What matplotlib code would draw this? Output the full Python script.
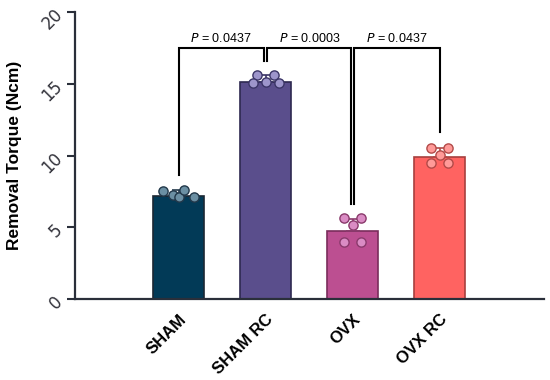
import matplotlib
matplotlib.use("Agg")
import matplotlib.pyplot as plt
import numpy as np

categories = ["SHAM", "SHAM RC", "OVX", "OVX RC"]
bar_means = [7.2, 15.12, 4.75, 9.93]
bar_sd = [0.38, 0.48, 0.85, 0.57]
points = [
    [7.55, 7.25, 7.08, 7.62, 7.08],
    [15.61, 15.61, 15.10, 15.03, 15.03],
    [5.62, 5.62, 5.16, 3.95, 3.95],
    [10.50, 10.50, 10.03, 9.50, 9.50],
]
point_offsets = [
    [-0.18, -0.06, 0.0, 0.06, 0.18],
    [-0.10, 0.10, 0.0, -0.148, 0.158],
    [-0.095, 0.10, 0.0, -0.10, 0.095],
    [-0.10, 0.10, 0.0, -0.10, 0.10],
]
comparisons = [(0, 1), (1, 2), (2, 3)]
p_labels = ["0.0437", "0.0003", "0.0437"]
bracket_top = [17.47, 17.47, 17.47]
leg_bottoms = [(8.64, 16.6), (16.6, 6.62), (6.62, 11.66)]
leg_shift = [(0.0, -0.02), (0.02, -0.015), (0.015, 0.0)]
yticks = [0, 5, 10, 15, 20]

fill_colors = ["#023a57", "#5a4e8c", "#bc4f91", "#ff6361"]
edge_colors = ["#1b2733", "#2e2950", "#7a2d5c", "#a8403e"]
point_colors = ["#6b8fa3", "#9d95cb", "#da8cc4", "#ff9a98"]
point_edges = ["#22384a", "#3b3567", "#8a3a6c", "#b24a48"]

fig = plt.figure(figsize=(5.5, 3.8), dpi=100)
ax = fig.add_axes([75/550, (380-299)/380, (544-75)/550, (299-12)/380])

x = np.arange(len(categories))
ax.bar(x, bar_means, width=0.586, color=fill_colors, edgecolor=edge_colors,
       linewidth=1.2, zorder=2)
for i in range(len(categories)):
    ax.errorbar(x[i], bar_means[i], yerr=[[0], [bar_sd[i]]], fmt="none",
                ecolor=point_edges[i], elinewidth=1.2, capsize=5, capthick=1.2,
                zorder=3)
    ax.scatter(x[i] + np.array(point_offsets[i]), points[i], s=44,
               facecolor=point_colors[i], edgecolor=point_edges[i],
               linewidth=1.0, zorder=4)

for k, (a, b) in enumerate(comparisons):
    xa = a + leg_shift[k][0]
    xb = b + leg_shift[k][1]
    ya, yb = leg_bottoms[k]
    yt = bracket_top[k]
    ax.plot([xa, xa, xb, xb], [ya, yt, yt, yb], color="black", lw=1.5,
            zorder=5, solid_joinstyle="miter", clip_on=False)
    ax.text((xa + xb) / 2, yt + 0.2, "$\\it{P}$ = " + p_labels[k],
            ha="center", va="bottom", fontsize=9,
            family="Liberation Sans", color="black")

ax.set_xlim(-1.19, 4.2)
ax.set_ylim(0, 20)
ax.set_yticks(yticks)
ax.set_yticklabels([str(v) for v in yticks], rotation=45, fontsize=12,
                   family="DejaVu Sans", color="#33333b",
                   ha="right", va="center", rotation_mode="anchor")
ax.set_xticks(x)
ax.set_xticklabels(categories, rotation=45, ha="right", va="top",
                   rotation_mode="anchor", fontsize=12, fontweight="bold",
                   family="Liberation Sans")
ax.tick_params(axis="x", length=0, pad=9)
ax.tick_params(axis="y", length=6, width=1.5, color="#2a2f3a", pad=5)
ax.set_ylabel("Removal Torque (Ncm)", fontsize=12.5, fontweight="bold",
              family="Liberation Sans", labelpad=12)

for s in ["top", "right"]:
    ax.spines[s].set_visible(False)
for s in ["left", "bottom"]:
    ax.spines[s].set_linewidth(1.6)
    ax.spines[s].set_color("#2a2f3a")

fig.savefig("out.png", dpi=100)
